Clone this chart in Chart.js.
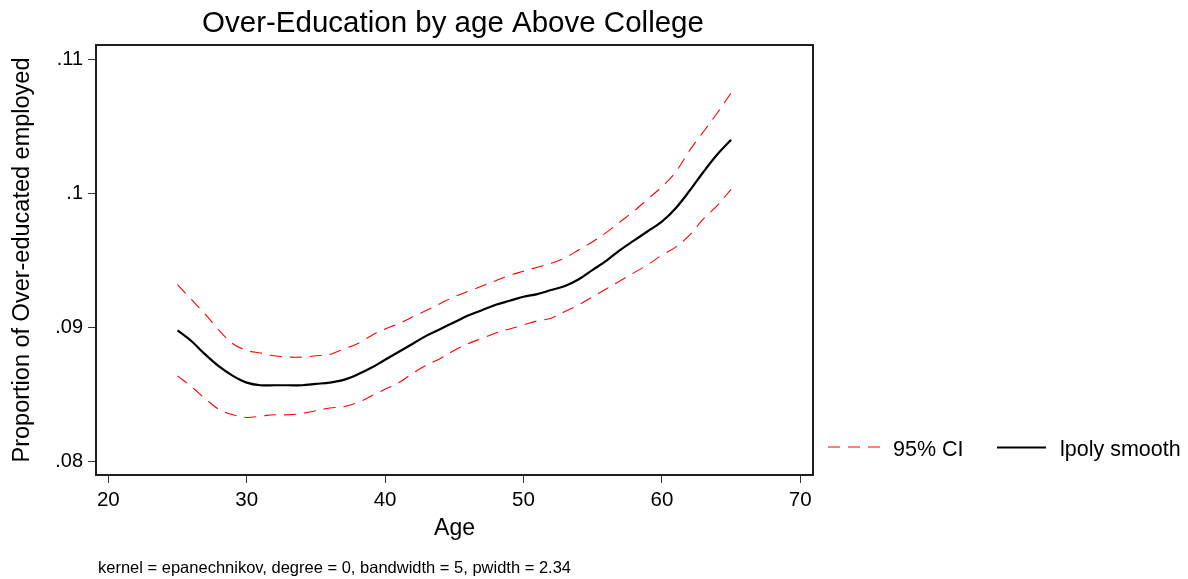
<!DOCTYPE html>
<html>
<head>
<meta charset="utf-8">
<title>Over-Education by age Above College</title>
<script src="https://cdn.jsdelivr.net/npm/chart.js@4.4.1/dist/chart.umd.min.js"></script>
<style>
  html, body { margin: 0; padding: 0; background: #fff; }
  #wrap { width: 1188px; height: 579px; position: relative; }
</style>
</head>
<body>
<div id="wrap"><canvas id="c"></canvas></div>
<script>
// Age grid of the local polynomial smooth
const ages = [25, 26, 27, 28, 29, 30, 31, 32, 33, 34, 35, 36, 37, 38, 39, 40, 41, 42, 43, 44, 45,
              46, 47, 48, 49, 50, 51, 52, 53, 54, 55, 56, 57, 58, 59, 60, 61, 62, 63, 64, 65];

// lpoly smooth estimate
const smooth = [0.0898, 0.0890, 0.0880, 0.0871, 0.0864, 0.0859, 0.0857, 0.0857, 0.0857, 0.0857, 0.0858,
                0.0859, 0.0861, 0.0865, 0.0870, 0.0876, 0.0882, 0.0888, 0.0894, 0.0899, 0.0904,
                0.0909, 0.0913, 0.0917, 0.0920, 0.0923, 0.0925, 0.0928, 0.0931, 0.0936, 0.0943,
                0.0950, 0.0958, 0.0965, 0.0972, 0.0979, 0.0989, 0.1002, 0.1016, 0.1029, 0.1040];

// 95% confidence band
const ciUpper = [0.0932, 0.0921, 0.0910, 0.0898, 0.0888, 0.0883, 0.0881, 0.0879, 0.0878, 0.0878, 0.0879,
                 0.0880, 0.0884, 0.0888, 0.0894, 0.0899, 0.0903, 0.0908, 0.0913, 0.0918, 0.0923,
                 0.0927, 0.0931, 0.0935, 0.0939, 0.0942, 0.0945, 0.0948, 0.0952, 0.0958, 0.0964,
                 0.0971, 0.0979, 0.0987, 0.0996, 0.1005, 0.1016, 0.1032, 0.1046, 0.1060, 0.1075];
const ciLower = [0.0864, 0.0856, 0.0847, 0.0839, 0.0835, 0.0833, 0.0834, 0.0835, 0.0835, 0.0836, 0.0838,
                 0.0840, 0.0841, 0.0844, 0.0849, 0.0854, 0.0859, 0.0866, 0.0872, 0.0877, 0.0883,
                 0.0888, 0.0892, 0.0896, 0.0899, 0.0902, 0.0905, 0.0907, 0.0912, 0.0917, 0.0923,
                 0.0929, 0.0935, 0.0941, 0.0947, 0.0954, 0.0960, 0.0969, 0.0981, 0.0991, 0.1003];

// Axis ticks
const xTicks = [20, 30, 40, 50, 60, 70];
const yTicks = [0.08, 0.09, 0.10, 0.11];

const titleText = 'Over-Education by age Above College';
const xTitle = 'Age';
const yTitle = 'Proportion of Over-educated employed';
const noteText = 'kernel = epanechnikov, degree = 0, bandwidth = 5, pwidth = 2.34';
const legendLabels = ['95% CI', 'lpoly smooth'];

const FONT = "'Liberation Sans', Arial, Helvetica, sans-serif";
const CI_RED = 'rgb(255, 0, 0)';

const toPoints = ys => ages.map((a, i) => ({ x: a, y: ys[i] }));
const fmtY = v => v.toFixed(2).replace(/0+$/, '').replace(/^0/, '');

// Title, frame, legend and kernel note
const decor = {
  id: 'decor',
  afterDraw(chart) {
    const { ctx, chartArea: a } = chart;
    ctx.save();

    // plot-region frame
    ctx.strokeStyle = '#1e1e1e';
    ctx.lineWidth = 2;
    ctx.strokeRect(a.left, a.top, a.right - a.left, a.bottom - a.top);

    // title
    ctx.fillStyle = '#000';
    ctx.textAlign = 'center';
    ctx.textBaseline = 'alphabetic';
    ctx.font = '29.5px ' + FONT;
    ctx.fillText(titleText, 453, 32);

    // legend
    const ly = 447;
    const lx = a.right + 15;
    ctx.lineWidth = 1;
    ctx.strokeStyle = CI_RED;
    ctx.setLineDash([12, 8]);
    ctx.beginPath(); ctx.moveTo(lx, ly); ctx.lineTo(lx + 52, ly); ctx.stroke();
    ctx.setLineDash([]);
    ctx.strokeStyle = '#000';
    ctx.lineWidth = 2;
    ctx.beginPath(); ctx.moveTo(lx + 169, ly + 0.5); ctx.lineTo(lx + 218, ly + 0.5); ctx.stroke();

    ctx.textAlign = 'left';
    ctx.font = '21.5px ' + FONT;
    ctx.fillText(legendLabels[0], lx + 65, 456);
    ctx.fillText(legendLabels[1], lx + 232, 456);

    // kernel note
    ctx.font = '16.5px ' + FONT;
    ctx.fillText(noteText, 98, 573);

    ctx.restore();
  }
};

new Chart(document.getElementById('c'), {
  type: 'line',
  data: {
    datasets: [
      {
        label: legendLabels[1],
        data: toPoints(smooth),
        borderColor: '#000',
        borderWidth: 2.2,
        pointRadius: 0,
        tension: 0.35,
        fill: false
      },
      {
        label: legendLabels[0] + ' upper',
        data: toPoints(ciUpper),
        borderColor: CI_RED,
        borderWidth: 1.1,
        borderDash: [12, 8],
        pointRadius: 0,
        tension: 0.35,
        fill: false
      },
      {
        label: legendLabels[0] + ' lower',
        data: toPoints(ciLower),
        borderColor: CI_RED,
        borderWidth: 1.1,
        borderDash: [12, 8],
        pointRadius: 0,
        tension: 0.35,
        fill: false
      }
    ]
  },
  options: {
    responsive: true,
    maintainAspectRatio: false,
    animation: false,
    events: [],
    layout: { padding: { left: 0, right: 375, top: 45, bottom: 0 } },
    plugins: {
      legend: { display: false },
      tooltip: { enabled: false },
      title: { display: false }
    },
    scales: {
      x: {
        type: 'linear',
        min: 19.11,
        max: 70.92,
        afterFit: s => { s.height = 104; },
        afterBuildTicks: s => { s.ticks = xTicks.map(v => ({ value: v })); },
        border: { display: false },
        grid: { drawOnChartArea: false, drawTicks: true, tickLength: 8, color: '#333', lineWidth: 1 },
        ticks: {
          autoSkip: false,
          maxRotation: 0,
          padding: 5,
          color: '#000',
          font: { family: FONT, size: 20.5 },
          callback: v => String(v)
        },
        title: {
          display: true,
          text: xTitle,
          color: '#000',
          font: { family: FONT, size: 23 },
          padding: { top: 0, bottom: 37 }
        }
      },
      y: {
        type: 'linear',
        min: 0.07901,
        max: 0.11107,
        afterFit: s => { s.width = 96; },
        afterBuildTicks: s => { s.ticks = yTicks.map(v => ({ value: v })); },
        border: { display: false },
        grid: { drawOnChartArea: false, drawTicks: true, tickLength: 8, color: '#333', lineWidth: 1 },
        ticks: {
          autoSkip: false,
          padding: 5,
          color: '#000',
          font: { family: FONT, size: 20 },
          callback: v => fmtY(v)
        },
        title: {
          display: true,
          text: yTitle,
          color: '#000',
          font: { family: FONT, size: 23.5 },
          padding: { top: 8, bottom: 0 }
        }
      }
    }
  },
  plugins: [decor]
});
</script>
</body>
</html>
